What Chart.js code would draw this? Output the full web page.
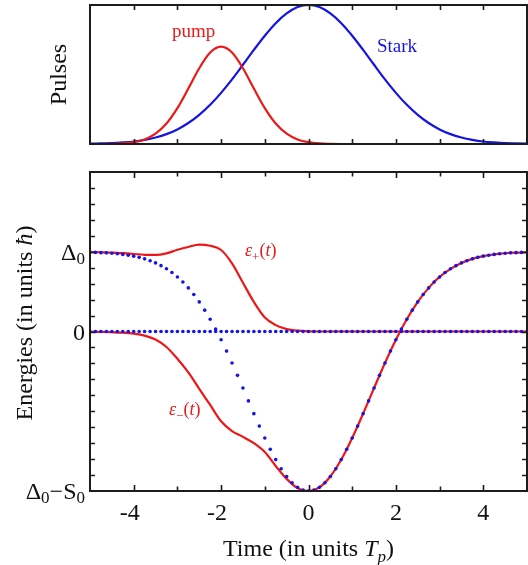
<!DOCTYPE html>
<html><head><meta charset="utf-8">
<script src="https://cdn.jsdelivr.net/npm/chart.js@4.4.0/dist/chart.umd.min.js"></script>
<style>
html,body{margin:0;padding:0;background:#fff;}
body{width:528px;height:565px;position:relative;overflow:hidden;}
canvas{position:absolute;left:0;}
#top{top:0;}
#bot{top:160px;}
</style></head><body>
<canvas id="top" width="528" height="160"></canvas>
<canvas id="bot" width="528" height="405"></canvas>
<script>
// ---------- data ----------
const timeCoarse = [-5,-4.75,-4.5,-4.25,-4,-3.75,-3.5,-3.25,-3,-2.75,-2.5,-2.25,-2,-1.75,-1.5,-1.25,-1,-0.75,-0.5,-0.25,0,
  0.25,0.5,0.75,1,1.25,1.5,1.75,2,2.25,2.5,2.75,3,3.25,3.5,3.75,4,4.25,4.5,4.75,5];

const pumpPulse = [0,0,0.001,0.004,0.013,0.033,0.074,0.147,0.258,0.399,0.545,0.658,0.700,0.658,0.545,0.399,0.258,0.147,0.074,0.033,0.013,
  0.004,0.001,0,0,0,0,0,0,0,0,0,0,0,0,0,0,0,0,0,0];

const starkPulse = [0.002,0.004,0.006,0.011,0.018,0.030,0.047,0.071,0.105,0.151,0.210,0.282,0.368,0.465,0.570,0.677,0.779,0.869,0.939,0.985,1.000,
  0.985,0.939,0.869,0.779,0.677,0.570,0.465,0.368,0.282,0.210,0.151,0.105,0.071,0.047,0.030,0.018,0.011,0.006,0.004,0.002];

const epsPlus = [0.997,0.994,0.990,0.982,0.972,0.962,0.960,0.980,1.025,1.060,1.090,1.075,1.022,0.855,0.612,0.370,0.175,0.080,0.030,0.010,0.002,
  0,0,0,0,0,0,0,0,0,0,0,0,0,0,0,0,0,0,0,0];

const epsMinus = [-0.003,-0.005,-0.009,-0.015,-0.027,-0.051,-0.100,-0.194,-0.341,-0.513,-0.719,-0.921,-1.126,-1.250,-1.321,-1.400,-1.511,-1.686,-1.848,-1.964,-2.000,
  -1.954,-1.818,-1.606,-1.336,-1.030,-0.709,-0.395,-0.104,0.154,0.371,0.547,0.684,0.786,0.860,0.911,0.945,0.967,0.981,0.989,0.994];

const timeFine = [-5,-4.875,-4.75,-4.625,-4.5,-4.375,-4.25,-4.125,-4,-3.875,-3.75,-3.625,-3.5,-3.375,-3.25,-3.125,-3,-2.875,-2.75,-2.625,
  -2.5,-2.375,-2.25,-2.125,-2,-1.875,-1.75,-1.625,-1.5,-1.375,-1.25,-1.125,-1,-0.875,-0.75,-0.625,-0.5,-0.375,-0.25,-0.125,0,
  0.125,0.25,0.375,0.5,0.625,0.75,0.875,1,1.125,1.25,1.375,1.5,1.625,1.75,1.875,2,2.125,2.25,2.375,2.5,
  2.625,2.75,2.875,3,3.125,3.25,3.375,3.5,3.625,3.75,3.875,4,4.125,4.25,4.375,4.5,4.625,4.75,4.875,5];

const diabaticUpper = [0.994,0.992,0.989,0.986,0.981,0.975,0.967,0.957,0.945,0.930,0.911,0.888,0.860,0.826,0.786,0.739,0.684,0.620,0.547,0.464,
  0.371,0.268,0.154,0.030,-0.104,-0.246,-0.395,-0.550,-0.709,-0.870,-1.030,-1.186,-1.336,-1.477,-1.606,-1.721,-1.818,-1.897,-1.954,-1.988,-2.000,
  -1.988,-1.954,-1.897,-1.818,-1.721,-1.606,-1.477,-1.336,-1.186,-1.030,-0.870,-0.709,-0.550,-0.395,-0.246,-0.104,0.030,0.154,0.268,0.371,
  0.464,0.547,0.620,0.684,0.739,0.786,0.826,0.860,0.888,0.911,0.930,0.945,0.957,0.967,0.975,0.981,0.986,0.989,0.992,0.994];

const diabaticLower = [0,0,0,0,0,0,0,0,0,0,0,0,0,0,0,0,0,0,0,0,
  0,0,0,0,0,0,0,0,0,0,0,0,0,0,0,0,0,0,0,0,0,
  0,0,0,0,0,0,0,0,0,0,0,0,0,0,0,0,0,0,0,0,
  0,0,0,0,0,0,0,0,0,0,0,0,0,0,0,0,0,0,0,0];

const xTickValues = [-4,-2,0,2,4];
const xTickLabels = ['-4','-2','0','2','4'];
const yTickValues = [1,0,-2];
const yTickLabels = ['Δ_0','0','Δ_0−S_0'];

const topTitle = 'Pulses';
const yTitle = 'Energies (in units *ħ*)';
const xTitle = 'Time (in units *T_p*)';
const pumpLabel = 'pump';
const starkLabel = 'Stark';
const epsPlusLabel = '*ε*_+(*t*)';
const epsMinusLabel = '*ε*_−(*t*)';

// ---------- styling ----------
const FONT = '"Liberation Serif","Times New Roman",serif';
const RED = 'rgb(236,24,24)';
const BLUE = 'rgb(20,20,228)';
const AXIS = '#1c1c1c';

function parseRich(str){
  const parts=[]; let italic=false;
  for(let i=0;i<str.length;i++){
    const c=str[i];
    if(c==='*'){italic=!italic;continue;}
    if(c==='_'){parts.push({t:str[i+1],s:true,i:italic});i++;continue;}
    const last=parts[parts.length-1];
    if(last && !last.s && last.i===italic) last.t+=c; else parts.push({t:c,s:false,i:italic});
  }
  return parts;
}
function richWidth(ctx, parts, size){
  let w=0;
  parts.forEach(p=>{ctx.font=(p.i?'italic ':'')+(p.s?Math.round(size*0.7):size)+'px '+FONT; w+=ctx.measureText(p.t).width;});
  return w;
}
function drawRich(ctx, str, x, y, align, size, color, subDrop){
  const parts=parseRich(str);
  const w=richWidth(ctx,parts,size);
  let cx = align==='right' ? x-w : align==='center' ? x-w/2 : x;
  ctx.fillStyle=color; ctx.textAlign='left'; ctx.textBaseline='alphabetic';
  parts.forEach(p=>{
    ctx.font=(p.i?'italic ':'')+(p.s?Math.round(size*0.7):size)+'px '+FONT;
    ctx.fillText(p.t, cx, y + (p.s ? (subDrop!==undefined?subDrop:size*0.25) : 0));
    cx+=ctx.measureText(p.t).width;
  });
}

const topPlugin = {
  id:'topDecor',
  afterDatasetsDraw(chart){
    const {ctx, chartArea:a, scales:{x}} = chart;
    ctx.save();
    ctx.strokeStyle=AXIS; ctx.lineWidth=2;
    ctx.strokeRect(a.left, a.top, a.right-a.left, a.bottom-a.top);
    ctx.lineWidth=1.6;
    ctx.beginPath();
    for(let v=-4; v<=4; v++){
      const px=Math.round(x.getPixelForValue(v))+0.5;
      ctx.moveTo(px,a.top); ctx.lineTo(px,a.top+5);
      ctx.moveTo(px,a.bottom); ctx.lineTo(px,a.bottom-5);
    }
    ctx.stroke();
    ctx.save();
    ctx.translate(66, (a.top+a.bottom)/2);
    ctx.rotate(-Math.PI/2);
    drawRich(ctx, topTitle, 0, 0, 'center', 24, '#111');
    ctx.restore();
    drawRich(ctx, pumpLabel, 172, 37, 'left', 19, RED);
    drawRich(ctx, starkLabel, 377, 52, 'left', 19, BLUE);
    ctx.restore();
  }
};

const botPlugin = {
  id:'botDecor',
  afterDatasetsDraw(chart){
    const {ctx, chartArea:a, scales:{x,y}} = chart;
    ctx.save();
    ctx.strokeStyle=AXIS; ctx.lineWidth=2;
    ctx.strokeRect(a.left, a.top, a.right-a.left, a.bottom-a.top);
    ctx.lineWidth=1.6;
    ctx.beginPath();
    for(let v=-4; v<=4; v++){
      const px=Math.round(x.getPixelForValue(v))+0.5;
      const len = (v%2===0)?6:4.5;
      ctx.moveTo(px,a.top); ctx.lineTo(px,a.top+len);
      ctx.moveTo(px,a.bottom); ctx.lineTo(px,a.bottom-len);
    }
    for(let k=-9; k<=9; k++){
      const py=Math.round(y.getPixelForValue(k*0.2))+0.5;
      ctx.moveTo(a.left,py); ctx.lineTo(a.left+5,py);
      ctx.moveTo(a.right,py); ctx.lineTo(a.right-5,py);
    }
    ctx.stroke();
    ctx.fillStyle='#111'; ctx.textBaseline='alphabetic';
    ctx.font='24px '+FONT;
    xTickValues.forEach((v,k)=>{
      const px=x.getPixelForValue(v);
      const lab=xTickLabels[k];
      const neg = lab[0]==='-';
      const digits = neg? lab.slice(1): lab;
      const dw=ctx.measureText(digits).width;
      ctx.textAlign='left';
      ctx.fillText(digits, px-dw/2, a.bottom+29);
      if(neg){ ctx.textAlign='right'; ctx.fillText('-', px-dw/2, a.bottom+29); }
    });
    yTickValues.forEach((v,k)=>{
      const py=y.getPixelForValue(v);
      drawRich(ctx, yTickLabels[k], 85, py+8, 'right', 24, '#111', 4);
    });
    drawRich(ctx, xTitle, x.getPixelForValue(0), a.bottom+65, 'center', 24, '#111', 6);
    ctx.save();
    ctx.translate(32, 163);
    ctx.rotate(-Math.PI/2);
    drawRich(ctx, yTitle, 0, 0, 'center', 24, '#111');
    ctx.restore();
    drawRich(ctx, epsPlusLabel, 245, 96, 'left', 18, RED, 5);
    drawRich(ctx, epsMinusLabel, 169, 255, 'left', 18, RED, 5);
    ctx.restore();
  }
};

const pts = (xs, ys) => xs.map((t,k)=>({x:t, y:ys[k]}));

new Chart(document.getElementById('top'), {
  type:'scatter',
  data:{datasets:[
    {data:pts(timeCoarse,pumpPulse), showLine:true, borderColor:RED, borderWidth:2.2, pointRadius:0, cubicInterpolationMode:'monotone', order:0},
    {data:pts(timeCoarse,starkPulse), showLine:true, borderColor:BLUE, borderWidth:2.2, pointRadius:0, cubicInterpolationMode:'monotone', order:1}
  ]},
  options:{
    responsive:false, animation:false, devicePixelRatio:1,
    layout:{autoPadding:false, padding:{top:5,right:1,left:0,bottom:0}},
    plugins:{legend:{display:false}, tooltip:{enabled:false}},
    scales:{
      x:{type:'linear', min:-5, max:5, ticks:{display:false}, grid:{display:false}, border:{display:false}, afterFit(s){s.height=16;}},
      y:{type:'linear', min:0, max:1, ticks:{display:false}, grid:{display:false}, border:{display:false}, afterFit(s){s.width=90;}}
    }
  },
  plugins:[topPlugin]
});

new Chart(document.getElementById('bot'), {
  type:'scatter',
  data:{datasets:[
    {data:pts(timeFine,diabaticUpper), showLine:false, pointRadius:1.8, pointBorderWidth:0, pointBackgroundColor:BLUE, pointBorderColor:BLUE, order:0},
    {data:pts(timeFine,diabaticLower), showLine:false, pointRadius:1.8, pointBorderWidth:0, pointBackgroundColor:BLUE, pointBorderColor:BLUE, order:0},
    {data:pts(timeCoarse,epsPlus), showLine:true, borderColor:RED, borderWidth:2.2, pointRadius:0, cubicInterpolationMode:'monotone', order:1},
    {data:pts(timeCoarse,epsMinus), showLine:true, borderColor:RED, borderWidth:2.2, pointRadius:0, cubicInterpolationMode:'monotone', order:1}
  ]},
  options:{
    responsive:false, animation:false, devicePixelRatio:1,
    layout:{autoPadding:false, padding:{top:12,right:1,left:0,bottom:0}},
    plugins:{legend:{display:false}, tooltip:{enabled:false}},
    scales:{
      x:{type:'linear', min:-5, max:5, ticks:{display:false}, grid:{display:false}, border:{display:false}, afterFit(s){s.height=74;}},
      y:{type:'linear', min:-2, max:2, ticks:{display:false}, grid:{display:false}, border:{display:false}, afterFit(s){s.width=90;}}
    }
  },
  plugins:[botPlugin]
});
</script>
</body></html>
